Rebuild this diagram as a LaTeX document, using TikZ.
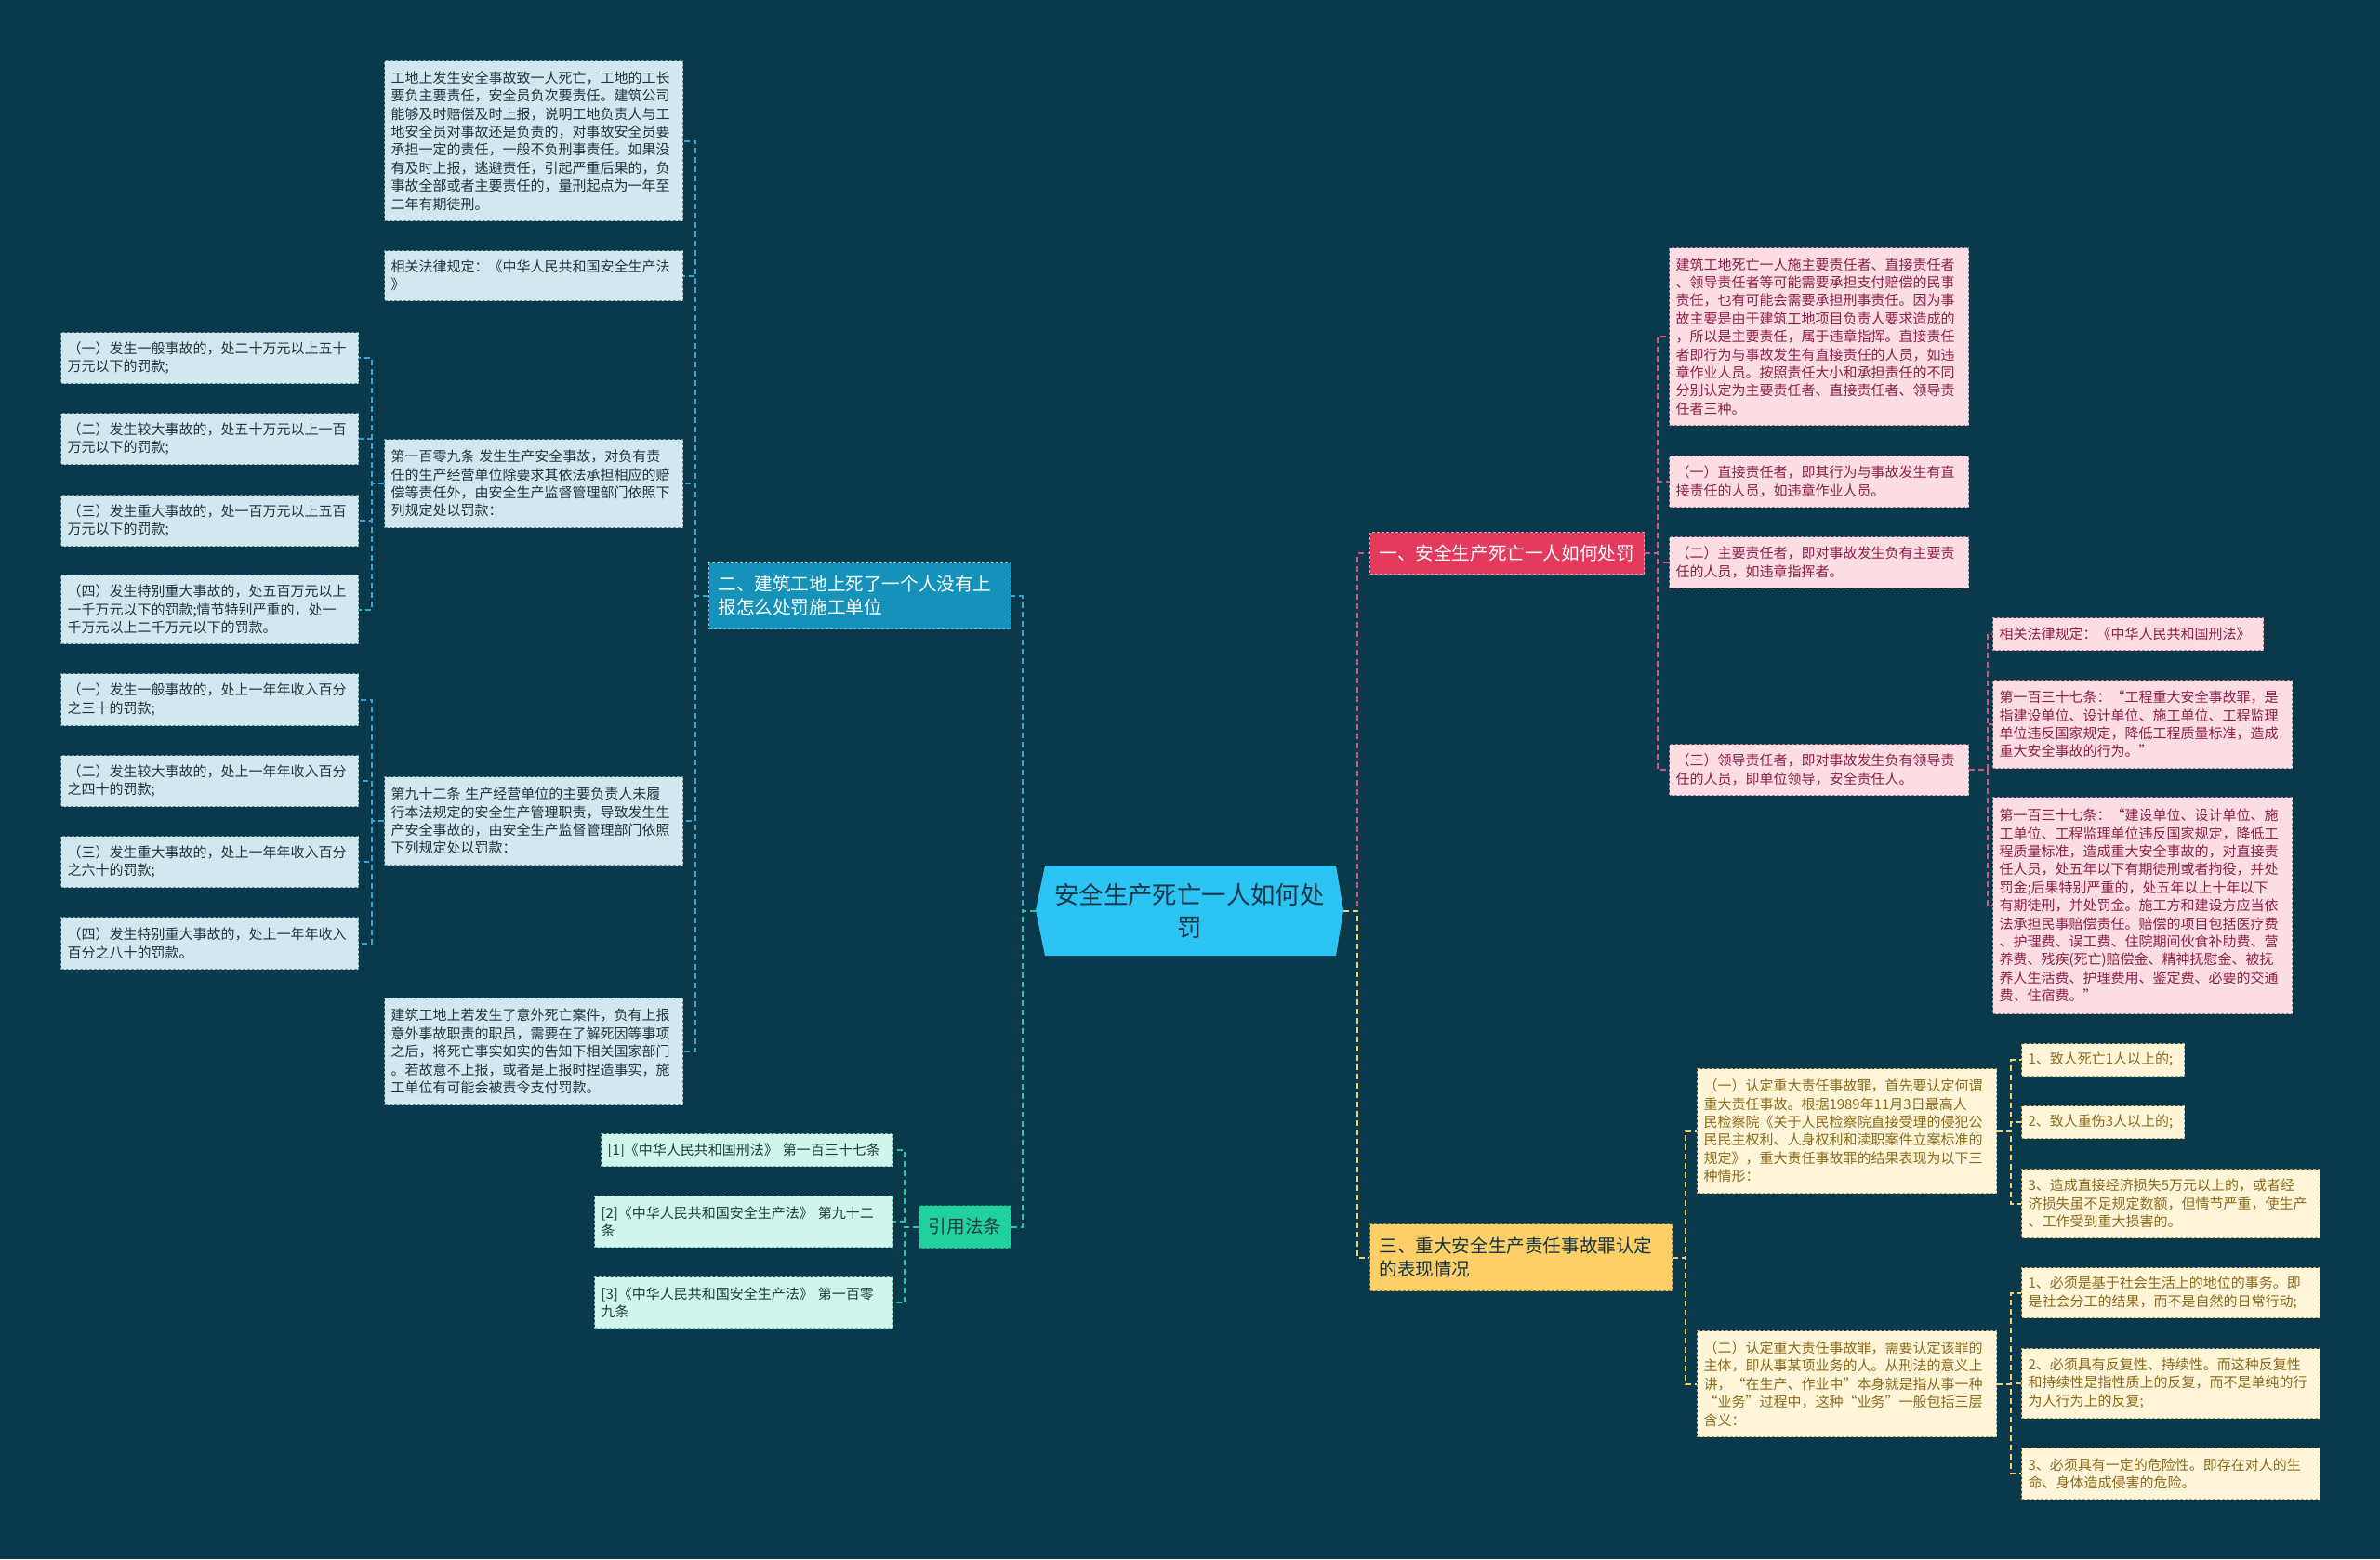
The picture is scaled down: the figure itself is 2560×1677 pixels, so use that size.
\documentclass[tikz,border=0pt]{standalone}
\usepackage{fontspec}
\setmainfont{Noto Sans CJK SC}
\definecolor{bg}{HTML}{0A394C}
\definecolor{cfill}{HTML}{2CC4F3}
\definecolor{ctext}{HTML}{183546}
\definecolor{btwofill}{HTML}{1591BA}
\definecolor{bonefill}{HTML}{E33A5E}
\definecolor{bthreefill}{HTML}{FDD067}
\definecolor{yffill}{HTML}{20D19E}
\definecolor{bfill}{HTML}{D2E8F0}
\definecolor{bborder}{HTML}{6E8E9C}
\definecolor{btext}{HTML}{1F3442}
\definecolor{pfill}{HTML}{FBDDE3}
\definecolor{pborder}{HTML}{B47C8C}
\definecolor{ptext}{HTML}{8E2048}
\definecolor{yfill}{HTML}{FFF6DA}
\definecolor{yborder}{HTML}{B9A46A}
\definecolor{ytext}{HTML}{8C6A1C}
\definecolor{mfill}{HTML}{D0F5EC}
\definecolor{mborder}{HTML}{6FB9A8}
\definecolor{mtext}{HTML}{1F3D3A}
\definecolor{lblue}{HTML}{3CA3CC}
\definecolor{lpink}{HTML}{D4587D}
\definecolor{lyellow}{HTML}{F3CF6E}
\definecolor{lgreen}{HTML}{22C9A0}
\newcommand\bodyfont{\fontsize{7.5pt}{9.7pt}\selectfont}
\newcommand\branchfont{\fontsize{9.8pt}{12.5pt}\selectfont}
\newcommand\centerfont{\fontsize{13.2pt}{17.5pt}\selectfont}
\newcommand\bx[7]{\node[#6,anchor=north west,minimum width=#4*0.5pt,minimum height=#5*0.5pt,text width=#4*0.5pt-7pt] (#1) at (#2,#3) {#7};}
\begin{document}
\begin{tikzpicture}[x=0.5pt,y=-0.5pt,
  box/.style={draw,line width=0.5pt,dash pattern=on 1.5pt off 1pt,inner xsep=3.5pt,inner ysep=2pt,align=left,font=\bodyfont},
  bluebox/.style={box,fill=bfill,draw=bborder,text=btext},
  pinkbox/.style={box,fill=pfill,draw=pborder,text=ptext},
  creambox/.style={box,fill=yfill,draw=yborder,text=ytext},
  mintbox/.style={box,fill=mfill,draw=mborder,text=mtext},
  brbox/.style={draw,line width=0.5pt,dash pattern=on 1.5pt off 1pt,inner xsep=5pt,inner ysep=2pt,align=left,font=\branchfont},
  conn/.style={line width=1pt,dash pattern=on 3pt off 2pt},
  cblue/.style={conn,draw=lblue},
  cpink/.style={conn,draw=lpink},
  cyellow/.style={conn,draw=lyellow},
  cgreen/.style={conn,draw=lgreen}]
\useasboundingbox (0,0) rectangle (2560,1677);
\fill[bg] (0,0) rectangle (2560,1677);
% central topic shape
\fill[cfill] (1114,979) -- (1124,931) -- (1437,931) -- (1445,979) -- (1437,1028) -- (1124,1028) -- cycle;
\node[minimum width=165.5pt,minimum height=48.5pt,inner sep=0pt,align=center,text=ctext,font=\centerfont] (c) at (1279.5,979.5) {安全生产死亡一人如何处\\罚};
% branches
\node[brbox,fill=btwofill,draw=lblue!70!white,text=white,anchor=north west,minimum width=162.5pt,minimum height=35.5pt,text width=152.5pt] (b2) at (762,605) {二、建筑工地上死了一个人没有上\\报怎么处罚施工单位};
\node[brbox,fill=yffill,draw=lgreen!60!black,text=mtext,anchor=north west,minimum width=49.5pt,minimum height=23pt,align=center,inner xsep=2pt] (yf) at (988,1296) {引用法条};
\node[brbox,fill=bonefill,draw=lpink!60!white,text=white,anchor=north west,minimum width=147.5pt,minimum height=22.5pt,text width=137.5pt] (b1) at (1473,572) {一、安全生产死亡一人如何处罚};
\node[brbox,fill=bthreefill,draw=lyellow!60!black,text=ctext,anchor=north west,minimum width=162.5pt,minimum height=36pt,text width=152.5pt] (b3) at (1473,1316) {三、重大安全生产责任事故罪认定\\的表现情况};
% branch two children
\bx{A}{413}{65}{321}{172}{bluebox}{工地上发生安全事故致一人死亡，工地的工长\\要负主要责任，安全员负次要责任。建筑公司\\能够及时赔偿及时上报，说明工地负责人与工\\地安全员对事故还是负责的，对事故安全员要\\承担一定的责任，一般不负刑事责任。如果没\\有及时上报，逃避责任，引起严重后果的，负\\事故全部或者主要责任的，量刑起点为一年至\\二年有期徒刑。}
\bx{B}{413}{269}{321}{54}{bluebox}{相关法律规定：《中华人民共和国安全生产法\\》}
\bx{C}{413}{472}{321}{95}{bluebox}{第一百零九条 发生生产安全事故，对负有责\\任的生产经营单位除要求其依法承担相应的赔\\偿等责任外，由安全生产监督管理部门依照下\\列规定处以罚款：}
\bx{D}{413}{835}{321}{95}{bluebox}{第九十二条 生产经营单位的主要负责人未履\\行本法规定的安全生产管理职责，导致发生生\\产安全事故的，由安全生产监督管理部门依照\\下列规定处以罚款：}
\bx{E}{413}{1073}{321}{115}{bluebox}{建筑工地上若发生了意外死亡案件，负有上报\\意外事故职责的职员，需要在了解死因等事项\\之后，将死亡事实如实的告知下相关国家部门\\。若故意不上报，或者是上报时捏造事实，施\\工单位有可能会被责令支付罚款。}
\bx{C1}{65}{357}{320}{55}{bluebox}{（一）发生一般事故的，处二十万元以上五十\\万元以下的罚款;}
\bx{C2}{65}{444}{320}{55}{bluebox}{（二）发生较大事故的，处五十万元以上一百\\万元以下的罚款;}
\bx{C3}{65}{532}{320}{55}{bluebox}{（三）发生重大事故的，处一百万元以上五百\\万元以下的罚款;}
\bx{C4}{65}{618}{320}{74}{bluebox}{（四）发生特别重大事故的，处五百万元以上\\一千万元以下的罚款;情节特别严重的，处一\\千万元以上二千万元以下的罚款。}
\bx{D1}{65}{724}{320}{56}{bluebox}{（一）发生一般事故的，处上一年年收入百分\\之三十的罚款;}
\bx{D2}{65}{812}{320}{55}{bluebox}{（二）发生较大事故的，处上一年年收入百分\\之四十的罚款;}
\bx{D3}{65}{899}{320}{55}{bluebox}{（三）发生重大事故的，处上一年年收入百分\\之六十的罚款;}
\bx{D4}{65}{986}{320}{56}{bluebox}{（四）发生特别重大事故的，处上一年年收入\\百分之八十的罚款。}
% references
\bx{R1}{646}{1219}{314}{35}{mintbox}{[1]《中华人民共和国刑法》 第一百三十七条}
\bx{R2}{639}{1286}{321}{55}{mintbox}{[2]《中华人民共和国安全生产法》 第九十二\\条}
\bx{R3}{639}{1373}{321}{55}{mintbox}{[3]《中华人民共和国安全生产法》 第一百零\\九条}
% branch one children
\bx{P0}{1795}{266}{322}{191}{pinkbox}{建筑工地死亡一人施主要责任者、直接责任者\\、领导责任者等可能需要承担支付赔偿的民事\\责任，也有可能会需要承担刑事责任。因为事\\故主要是由于建筑工地项目负责人要求造成的\\，所以是主要责任，属于违章指挥。直接责任\\者即行为与事故发生有直接责任的人员，如违\\章作业人员。按照责任大小和承担责任的不同\\分别认定为主要责任者、直接责任者、领导责\\任者三种。}
\bx{P1}{1795}{490}{322}{55}{pinkbox}{（一）直接责任者，即其行为与事故发生有直\\接责任的人员，如违章作业人员。}
\bx{P2}{1795}{577}{322}{55}{pinkbox}{（二）主要责任者，即对事故发生负有主要责\\任的人员，如违章指挥者。}
\bx{P3}{1795}{800}{322}{55}{pinkbox}{（三）领导责任者，即对事故发生负有领导责\\任的人员，即单位领导，安全责任人。}
\bx{Q1}{2143}{664}{291}{35}{pinkbox}{相关法律规定：《中华人民共和国刑法》}
\bx{Q2}{2143}{731}{322}{95}{pinkbox}{第一百三十七条：“工程重大安全事故罪，是\\指建设单位、设计单位、施工单位、工程监理\\单位违反国家规定，降低工程质量标准，造成\\重大安全事故的行为。”}
\bx{Q3}{2143}{857}{322}{233}{pinkbox}{第一百三十七条：“建设单位、设计单位、施\\工单位、工程监理单位违反国家规定，降低工\\程质量标准，造成重大安全事故的，对直接责\\任人员，处五年以下有期徒刑或者拘役，并处\\罚金;后果特别严重的，处五年以上十年以下\\有期徒刑，并处罚金。施工方和建设方应当依\\法承担民事赔偿责任。赔偿的项目包括医疗费\\、护理费、误工费、住院期间伙食补助费、营\\养费、残疾(死亡)赔偿金、精神抚慰金、被抚\\养人生活费、护理费用、鉴定费、必要的交通\\费、住宿费。”}
% branch three children
\bx{Y1}{1825}{1149}{322}{134}{creambox}{（一）认定重大责任事故罪，首先要认定何谓\\重大责任事故。根据1989年11月3日最高人\\民检察院《关于人民检察院直接受理的侵犯公\\民民主权利、人身权利和渎职案件立案标准的\\规定》，重大责任事故罪的结果表现为以下三\\种情形：}
\bx{Y2}{1825}{1431}{322}{114}{creambox}{（二）认定重大责任事故罪，需要认定该罪的\\主体，即从事某项业务的人。从刑法的意义上\\讲，“在生产、作业中”本身就是指从事一种\\“业务”过程中，这种“业务”一般包括三层\\含义：}
\bx{Z1}{2174}{1122}{175}{35}{creambox}{1、致人死亡1人以上的;}
\bx{Z2}{2174}{1189}{175}{35}{creambox}{2、致人重伤3人以上的;}
\bx{Z3}{2174}{1257}{321}{74}{creambox}{3、造成直接经济损失5万元以上的，或者经\\济损失虽不足规定数额，但情节严重，使生产\\、工作受到重大损害的。}
\bx{Z4}{2174}{1363}{321}{54}{creambox}{1、必须是基于社会生活上的地位的事务。即\\是社会分工的结果，而不是自然的日常行动;}
\bx{Z5}{2174}{1450}{321}{75}{creambox}{2、必须具有反复性、持续性。而这种反复性\\和持续性是指性质上的反复，而不是单纯的行\\为人行为上的反复;}
\bx{Z6}{2174}{1557}{321}{55}{creambox}{3、必须具有一定的危险性。即存在对人的生\\命、身体造成侵害的危险。}
% connectors
\draw[cblue] (c.west) -- ++(-14,0) |- (b2.east);
\draw[cgreen] (c.west) -- ++(-14,0) |- (yf.east);
\draw[cpink] (c.east) -- ++(15,0) |- (b1.west);
\draw[cyellow] (c.east) -- ++(15,0) |- (b3.west);
\foreach \n in {A,B,C,D,E} \draw[cblue] (b2.west) -- ++(-14,0) |- (\n.east);
\foreach \n in {C1,C2,C3,C4} \draw[cblue] (C.west) -- ++(-13,0) |- (\n.east);
\foreach \n in {D1,D2,D3,D4} \draw[cblue] (D.west) -- ++(-13,0) |- (\n.east);
\foreach \n in {R1,R2,R3} \draw[cgreen] (yf.west) -- ++(-15,0) |- (\n.east);
\foreach \n in {P0,P1,P2,P3} \draw[cpink] (b1.east) -- ++(14,0) |- (\n.west);
\foreach \n in {Q1,Q2,Q3} \draw[cpink] (P3.east) -- ++(20,0) |- (\n.west);
\foreach \n in {Y1,Y2} \draw[cyellow] (b3.east) -- ++(14,0) |- (\n.west);
\foreach \n in {Z1,Z2,Z3} \draw[cyellow] (Y1.east) -- ++(15,0) |- (\n.west);
\foreach \n in {Z4,Z5,Z6} \draw[cyellow] (Y2.east) -- ++(15,0) |- (\n.west);
\end{tikzpicture}
\end{document}
